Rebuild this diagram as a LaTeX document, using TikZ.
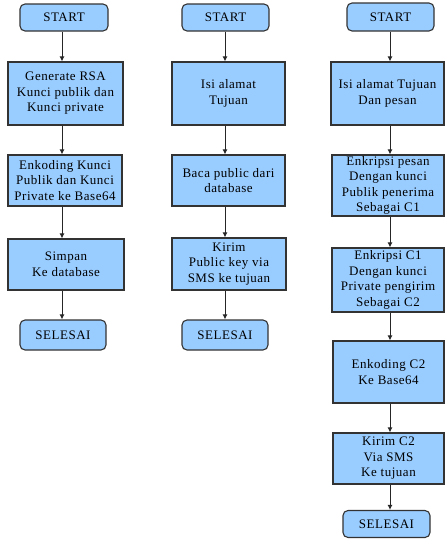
\documentclass[tikz,border=0pt]{standalone}
\usepackage{fontspec}
\setmainfont{Liberation Serif}
\newfontfamily\tnr[LetterSpace=4]{Liberation Serif}
\usetikzlibrary{arrows.meta}
\begin{document}
\begin{tikzpicture}[x=1pt,y=-1pt,
  box/.style={draw=black!80, line width=1.1pt, fill=fillblue, align=center, inner sep=0pt,
    font=\tnr\fontsize{13}{15.5}\selectfont},
  term/.style={box, rounded corners=5pt},
  arr/.style={draw=black!85, line width=1pt, -{Latex[length=5pt,width=5pt]}}]
\definecolor{fillblue}{HTML}{99CCFF}
\useasboundingbox (0,0) rectangle (445,539);
% column 1
\node[term, minimum width=88pt, minimum height=27pt] (s1) at (64,17.5) {START};
\node[box, minimum width=115pt, minimum height=63pt] (a1) at (65.5,93.5) {Generate RSA\\Kunci publik dan\\Kunci private};
\node[box, minimum width=114pt, minimum height=51pt] (a2) at (65,180.5) {Enkoding Kunci\\Publik dan Kunci\\Private ke Base64};
\node[box, minimum width=116pt, minimum height=51pt] (a3) at (66,264.5) {Simpan\\Ke database};
\node[term, minimum width=86pt, minimum height=30pt] (e1) at (63,335) {SELESAI};
\coordinate (x1) at (62,0);
\draw[arr] (x1 |- s1.south) -- (x1 |- a1.north);
\draw[arr] (x1 |- a1.south) -- (x1 |- a2.north);
\draw[arr] (x1 |- a2.south) -- (x1 |- a3.north);
\draw[arr] (x1 |- a3.south) -- (x1 |- e1.north);
% column 2
\node[term, minimum width=87pt, minimum height=27pt] (s2) at (225.5,17.5) {START};
\node[box, minimum width=113pt, minimum height=63pt] (b1) at (228.5,93.5) {Isi alamat\\Tujuan};
\node[box, minimum width=113pt, minimum height=51pt] (b2) at (228.5,180.5) {Baca public dari\\database};
\node[box, minimum width=114pt, minimum height=52pt] (b3) at (229,264) {Kirim\\Public key via\\SMS ke tujuan};
\node[term, minimum width=86pt, minimum height=30pt] (e2) at (225,335) {SELESAI};
\coordinate (x2) at (225,0);
\draw[arr] (x2 |- s2.south) -- (x2 |- b1.north);
\draw[arr] (x2 |- b1.south) -- (x2 |- b2.north);
\draw[arr] (x2 |- b2.south) -- (x2 |- b3.north);
\draw[arr] (x2 |- b3.south) -- (x2 |- e2.north);
% column 3
\node[term, minimum width=87pt, minimum height=28pt] (s3) at (390.5,17) {START};
\node[box, minimum width=113pt, minimum height=63pt] (c1) at (387.5,93.5) {Isi alamat Tujuan\\Dan pesan};
\node[box, minimum width=112pt, minimum height=61pt] (c2) at (388,185.5) {Enkripsi pesan\\Dengan kunci\\Publik penerima\\Sebagai C1};
\node[box, minimum width=112pt, minimum height=64pt] (c3) at (388,280) {Enkripsi C1\\Dengan kunci\\Private pengirim\\Sebagai C2};
\node[box, minimum width=111pt, minimum height=62pt] (c4) at (388.5,372) {Enkoding C2\\Ke Base64};
\node[box, minimum width=111pt, minimum height=51pt] (c5) at (388.5,458.5) {Kirim C2\\Via SMS\\Ke tujuan};
\node[term, minimum width=87pt, minimum height=27pt] (e3) at (386.5,524) {SELESAI};
\coordinate (x3) at (390,0);
\draw[arr] (x3 |- s3.south) -- (x3 |- c1.north);
\draw[arr] (x3 |- c1.south) -- (x3 |- c2.north);
\draw[arr] (x3 |- c2.south) -- (x3 |- c3.north);
\draw[arr] (x3 |- c3.south) -- (x3 |- c4.north);
\draw[arr] (x3 |- c4.south) -- (x3 |- c5.north);
\draw[arr] (x3 |- c5.south) -- (x3 |- e3.north);
\end{tikzpicture}
\end{document}
